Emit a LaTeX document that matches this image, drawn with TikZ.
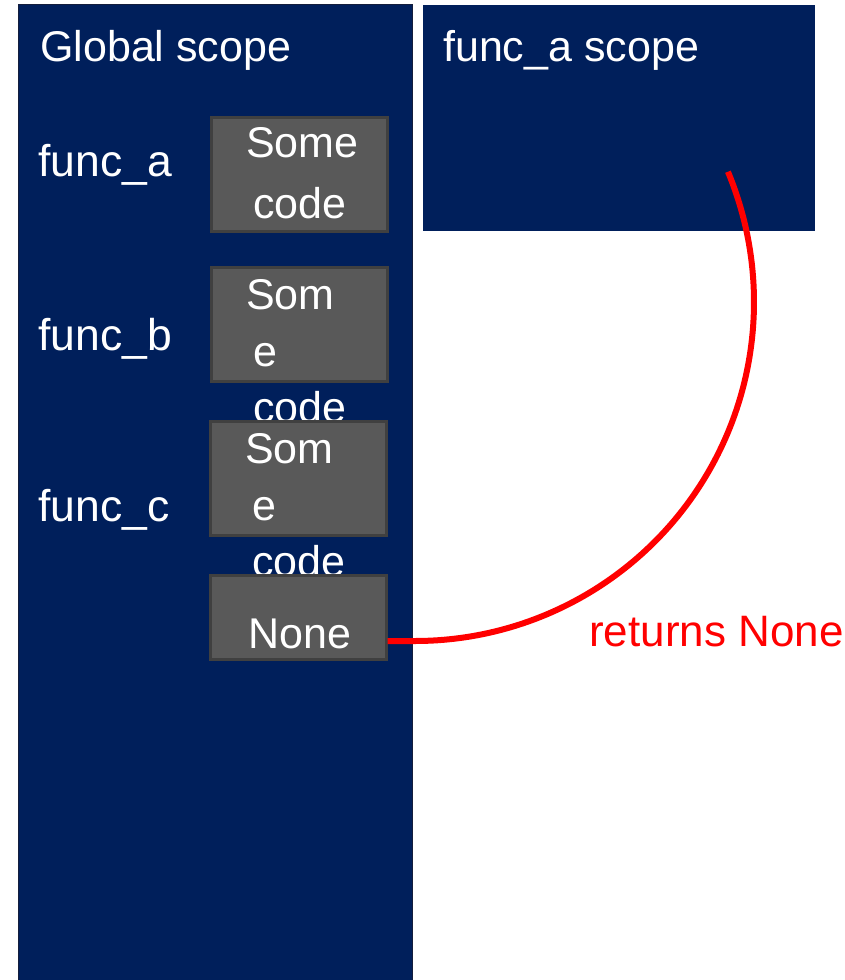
\documentclass[tikz,border=0pt]{standalone}
\usepackage{fontspec}
\setmainfont{Liberation Sans}
\definecolor{navy}{RGB}{0,31,91}
\definecolor{navyedge}{RGB}{20,30,60}
\definecolor{codegray}{RGB}{89,89,89}
\definecolor{codeedge}{RGB}{64,64,64}
\definecolor{retred}{RGB}{255,0,0}
\tikzset{
  scopebox/.style={fill=navy, draw=none, anchor=north west, inner sep=0pt},
  codebox/.style={fill=codegray, draw=codeedge, line width=2.5pt, anchor=north west,
    minimum width=176pt, minimum height=114pt, inner sep=0pt},
  label/.style={anchor=base west, inner sep=0pt, text=white,
    font=\fontsize{43}{50}\selectfont},
  biglabel/.style={label, font=\fontsize{44.5}{50}\selectfont},
  retlabel/.style={label, text=retred, font=\fontsize{44}{50}\selectfont},
  retline/.style={draw=retred, line width=6pt}
}
\begin{document}
\begin{tikzpicture}[x=1pt,y=-1pt]
\useasboundingbox (0,0) rectangle (845,980);

% scopes
\node[scopebox, draw=navyedge, line width=1pt, minimum width=394pt, minimum height=980pt] (global) at (18,4) {};
\node[scopebox, minimum width=392pt, minimum height=226pt] (ascope) at (423,5) {};
\node[label] (globaltitle) at (40,61) {Global scope};
\node[label] (atitle) at (443,61) {func\_a scope};

% names in the global scope
\node[biglabel] (fa) at (38,176) {func\_a};
\node[biglabel] (fb) at (38,350) {func\_b};
\node[biglabel] (fc) at (38,521) {func\_c};

% code objects (each later box is drawn over the overflow of the one above)
\node[codebox] (codea) at (210,116) {};
\node[label] (codea1) at (246,157) {Some};
\node[label] (codea2) at (253,218) {code};

\node[codebox] (codeb) at (210,266) {};
\node[label] (codeb1) at (246,309) {Som};
\node[label] (codeb2) at (253,366) {e};
\node[label] (codeb3) at (253,422) {code};

\node[codebox] (codec) at (209,420) {};
\node[label] (codec1) at (245,463) {Som};
\node[label] (codec2) at (252,520) {e};
\node[label] (codec3) at (252,576) {code};

\node[codebox, minimum height=84pt] (none) at (209,574) {};
\node[label] (none1) at (248,648) {None};

% return path from func_a scope back to the None object
\coordinate (bend) at (415,641);
\draw[retline] (none.east |- bend) -- (bend) arc[start angle=-90, end angle=22.6, radius=339pt];
\node[retlabel] (ret) at (589,646) {returns None};
\end{tikzpicture}
\end{document}
